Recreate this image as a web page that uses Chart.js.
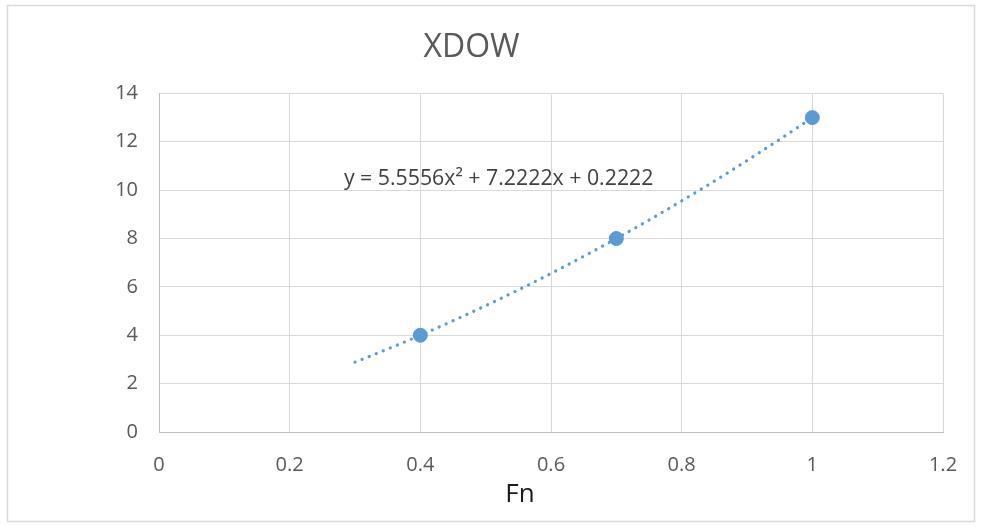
<!DOCTYPE html>
<html>
<head>
<meta charset="utf-8">
<title>XDOW</title>
<script src="https://cdn.jsdelivr.net/npm/chart.js@4"></script>
<style>
    html, body { margin: 0; padding: 0; background: #ffffff; }
    #xdowChart { display: block; }
</style>
</head>
<body>
<canvas id="xdowChart" width="984" height="527"></canvas>
<script>
//============================================= Data =============================================//
const fnValues = [0.4, 0.7, 1];
const xdowValues = [4, 8, 13];

// polynomial trendline y = a*x^2 + b*x + c, as printed on the chart
const trendCoef = [5.5556, 7.2222, 0.2222];
const trendFrom = 0.3;
const trendTo = 1.0;

const xTicks = [0, 0.2, 0.4, 0.6, 0.8, 1, 1.2];
const yTicks = [0, 2, 4, 6, 8, 10, 12, 14];

const trendLabel = 'y = 5.5556x² + 7.2222x + 0.2222';

//============================================= Trendline =============================================//
const trendPoints = [];
for (let i = 0; i <= 70; i++) {
    const x = trendFrom + (trendTo - trendFrom) * i / 70;
    trendPoints.push({ x: x, y: trendCoef[0] * x * x + trendCoef[1] * x + trendCoef[2] });
}

//============================================= Plugins =============================================//
const chartFrame = {
    id: 'chartFrame',
    beforeDraw(chart) {
        const { ctx } = chart;
        ctx.save();
        ctx.fillStyle = '#ffffff';
        ctx.fillRect(0, 0, chart.width, chart.height);
        ctx.strokeStyle = '#d9d9d9';
        ctx.lineWidth = 1.5;
        ctx.strokeRect(7.5, 5.5, 967, 516);
        ctx.restore();
    }
};

const extraText = {
    id: 'extraText',
    afterDraw(chart) {
        const { ctx, scales } = chart;
        ctx.save();
        ctx.textAlign = 'left';
        ctx.textBaseline = 'alphabetic';
        ctx.font = '21.3px "Open Sans"';
        ctx.fillStyle = '#404040';
        ctx.fillText(trendLabel, scales.x.getPixelForValue(0.283), scales.y.getPixelForValue(10.2));

        ctx.textAlign = 'center';
        ctx.font = '26px "Open Sans"';
        ctx.fillStyle = '#1a1a1a';
        ctx.fillText('Fn', 520, 502);
        ctx.restore();
    }
};

//============================================= Scatter chart =============================================//
const scatterConfig = {
    type: 'scatter',
    data: {
        datasets: [
            {
                label: 'XDOW',
                data: fnValues.map((x, i) => ({ x: x, y: xdowValues[i] })),
                backgroundColor: '#5b9bd5',
                borderColor: '#5b9bd5',
                borderWidth: 1,
                pointRadius: 7,
                order: 1
            },
            {
                label: 'Poly. (XDOW)',
                type: 'line',
                data: trendPoints,
                borderColor: '#5b9bd5',
                borderWidth: 3.2,
                borderCapStyle: 'round',
                borderDash: [0.1, 7.5],
                pointRadius: 0,
                tension: 0,
                fill: false,
                order: 2
            }
        ]
    },
    options: {
        responsive: false,
        animation: false,
        layout: {
            padding: { left: 0, right: 41, top: 0, bottom: 0 }
        },
        plugins: {
            legend: { display: false },
            tooltip: { enabled: false },
            title: {
                display: true,
                text: 'XDOW',
                color: '#595959',
                font: { family: '"Open Sans"', size: 32, weight: 'normal', lineHeight: 1.2 },
                padding: { top: 29, bottom: 26 }
            }
        },
        scales: {
            x: {
                type: 'linear',
                min: 0,
                max: 1.2,
                afterFit(scale) { scale.height = 95; },
                afterBuildTicks(scale) { scale.ticks = xTicks.map(v => ({ value: v })); },
                grid: { color: '#d9d9d9', lineWidth: 1, drawTicks: false },
                border: { color: '#bfbfbf', width: 1 },
                ticks: {
                    color: '#595959',
                    padding: 21,
                    font: { family: '"Open Sans"', size: 20 },
                    callback: v => String(v)
                }
            },
            y: {
                type: 'linear',
                min: 0,
                max: 14,
                afterFit(scale) { scale.width = 159; },
                afterBuildTicks(scale) { scale.ticks = yTicks.map(v => ({ value: v })); },
                grid: { color: '#d9d9d9', lineWidth: 1, drawTicks: false },
                border: { color: '#bfbfbf', width: 1 },
                ticks: {
                    color: '#595959',
                    padding: 21,
                    font: { family: '"Open Sans"', size: 20 },
                    callback: v => String(v)
                }
            }
        }
    },
    plugins: [chartFrame, extraText]
};

new Chart(document.getElementById('xdowChart'), scatterConfig);
</script>
</body>
</html>
